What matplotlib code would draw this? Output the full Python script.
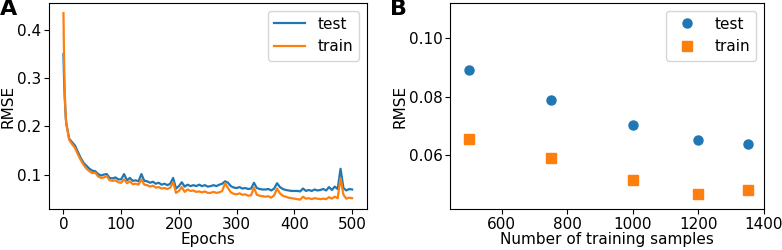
import matplotlib
matplotlib.use("Agg")
import matplotlib.pyplot as plt


# Panel A : RMSE vs epochs

epochs = [0, 1, 2, 3, 4] + list(range(5, 501, 5))

rmse_test = [0.350, 0.300, 0.265, 0.240, 0.218,
             0.205, 0.174, 0.167, 0.160, 0.147, 0.134, 0.124, 0.118, 0.112, 0.108,
             0.107, 0.101, 0.098, 0.100, 0.101, 0.093, 0.092, 0.094, 0.090, 0.090,
             0.101, 0.088, 0.093, 0.087, 0.088, 0.086, 0.101, 0.087, 0.086, 0.083,
             0.085, 0.081, 0.083, 0.079, 0.081, 0.078, 0.081, 0.093, 0.071, 0.076,
             0.084, 0.075, 0.079, 0.076, 0.078, 0.076, 0.079, 0.076, 0.078, 0.075,
             0.076, 0.078, 0.076, 0.079, 0.081, 0.086, 0.083, 0.076, 0.073, 0.072,
             0.074, 0.071, 0.072, 0.070, 0.071, 0.083, 0.072, 0.070, 0.069, 0.069,
             0.070, 0.067, 0.071, 0.082, 0.074, 0.070, 0.068, 0.067, 0.066, 0.066,
             0.066, 0.065, 0.071, 0.066, 0.068, 0.066, 0.069, 0.067, 0.068, 0.070,
             0.067, 0.074, 0.068, 0.075, 0.070, 0.112, 0.072, 0.067, 0.070, 0.069]

rmse_train = [0.435, 0.340, 0.280, 0.245, 0.220,
              0.205, 0.172, 0.163, 0.155, 0.142, 0.130, 0.120, 0.112, 0.107, 0.103,
              0.104, 0.096, 0.093, 0.094, 0.097, 0.088, 0.087, 0.088, 0.084, 0.083,
              0.090, 0.082, 0.086, 0.080, 0.081, 0.079, 0.090, 0.079, 0.078, 0.075,
              0.077, 0.073, 0.074, 0.071, 0.072, 0.070, 0.073, 0.084, 0.062, 0.066,
              0.074, 0.064, 0.069, 0.066, 0.067, 0.064, 0.065, 0.063, 0.065, 0.062,
              0.062, 0.064, 0.062, 0.063, 0.066, 0.082, 0.072, 0.063, 0.060, 0.059,
              0.061, 0.058, 0.059, 0.056, 0.057, 0.073, 0.058, 0.056, 0.055, 0.054,
              0.055, 0.052, 0.057, 0.071, 0.061, 0.056, 0.054, 0.052, 0.051, 0.050,
              0.049, 0.048, 0.054, 0.050, 0.051, 0.049, 0.051, 0.050, 0.049, 0.050,
              0.049, 0.053, 0.050, 0.054, 0.051, 0.093, 0.058, 0.050, 0.052, 0.051]

# Panel B : RMSE vs number of training samples

n_samples = [500, 750, 1000, 1200, 1350]
final_test = [0.0891, 0.0790, 0.0703, 0.0652, 0.0637]
final_train = [0.0656, 0.0590, 0.0515, 0.0468, 0.0481]


plt.rcParams["font.size"] = 11
plt.rcParams["xtick.major.pad"] = 2
plt.rcParams["ytick.major.pad"] = 2

fig = plt.figure(figsize=(7.82, 2.5), dpi=100)
ax1 = fig.add_axes([0.0627, 0.163, 0.406, 0.825])
ax2 = fig.add_axes([0.576, 0.163, 0.401, 0.825])

ax1.plot(epochs, rmse_test, color="#1f77b4", lw=1.6, label="test")
ax1.plot(epochs, rmse_train, color="#ff7f0e", lw=1.6, label="train")
ax1.set_xlabel("Epochs", labelpad=0)
ax1.set_ylabel("RMSE", labelpad=1)
ax1.set_xticks([0, 100, 200, 300, 400, 500])
ax1.set_yticks([0.1, 0.2, 0.3, 0.4])
ax1.set_xlim(-25, 525)
ax1.set_ylim(0.028, 0.456)
ax1.legend(loc="upper right")

ax2.plot(n_samples, final_test, "o", color="#1f77b4", ms=6.5, label="test")
ax2.plot(n_samples, final_train, "s", color="#ff7f0e", ms=6.5, label="train")
ax2.set_xlabel("Number of training samples", labelpad=0)
ax2.set_ylabel("RMSE", labelpad=1)
ax2.set_xticks([600, 800, 1000, 1200, 1400])
ax2.set_yticks([0.06, 0.08, 0.10])
ax2.set_yticklabels(["0.06", "0.08", "0.10"])
ax2.set_xlim(444, 1400)
ax2.set_ylim(0.0415, 0.112)
ax2.legend(loc="upper right")

fig.text(0.0, 0.94, "A", fontsize=16, fontweight="bold")
fig.text(0.499, 0.94, "B", fontsize=16, fontweight="bold")

fig.savefig("out.png", dpi=100)
